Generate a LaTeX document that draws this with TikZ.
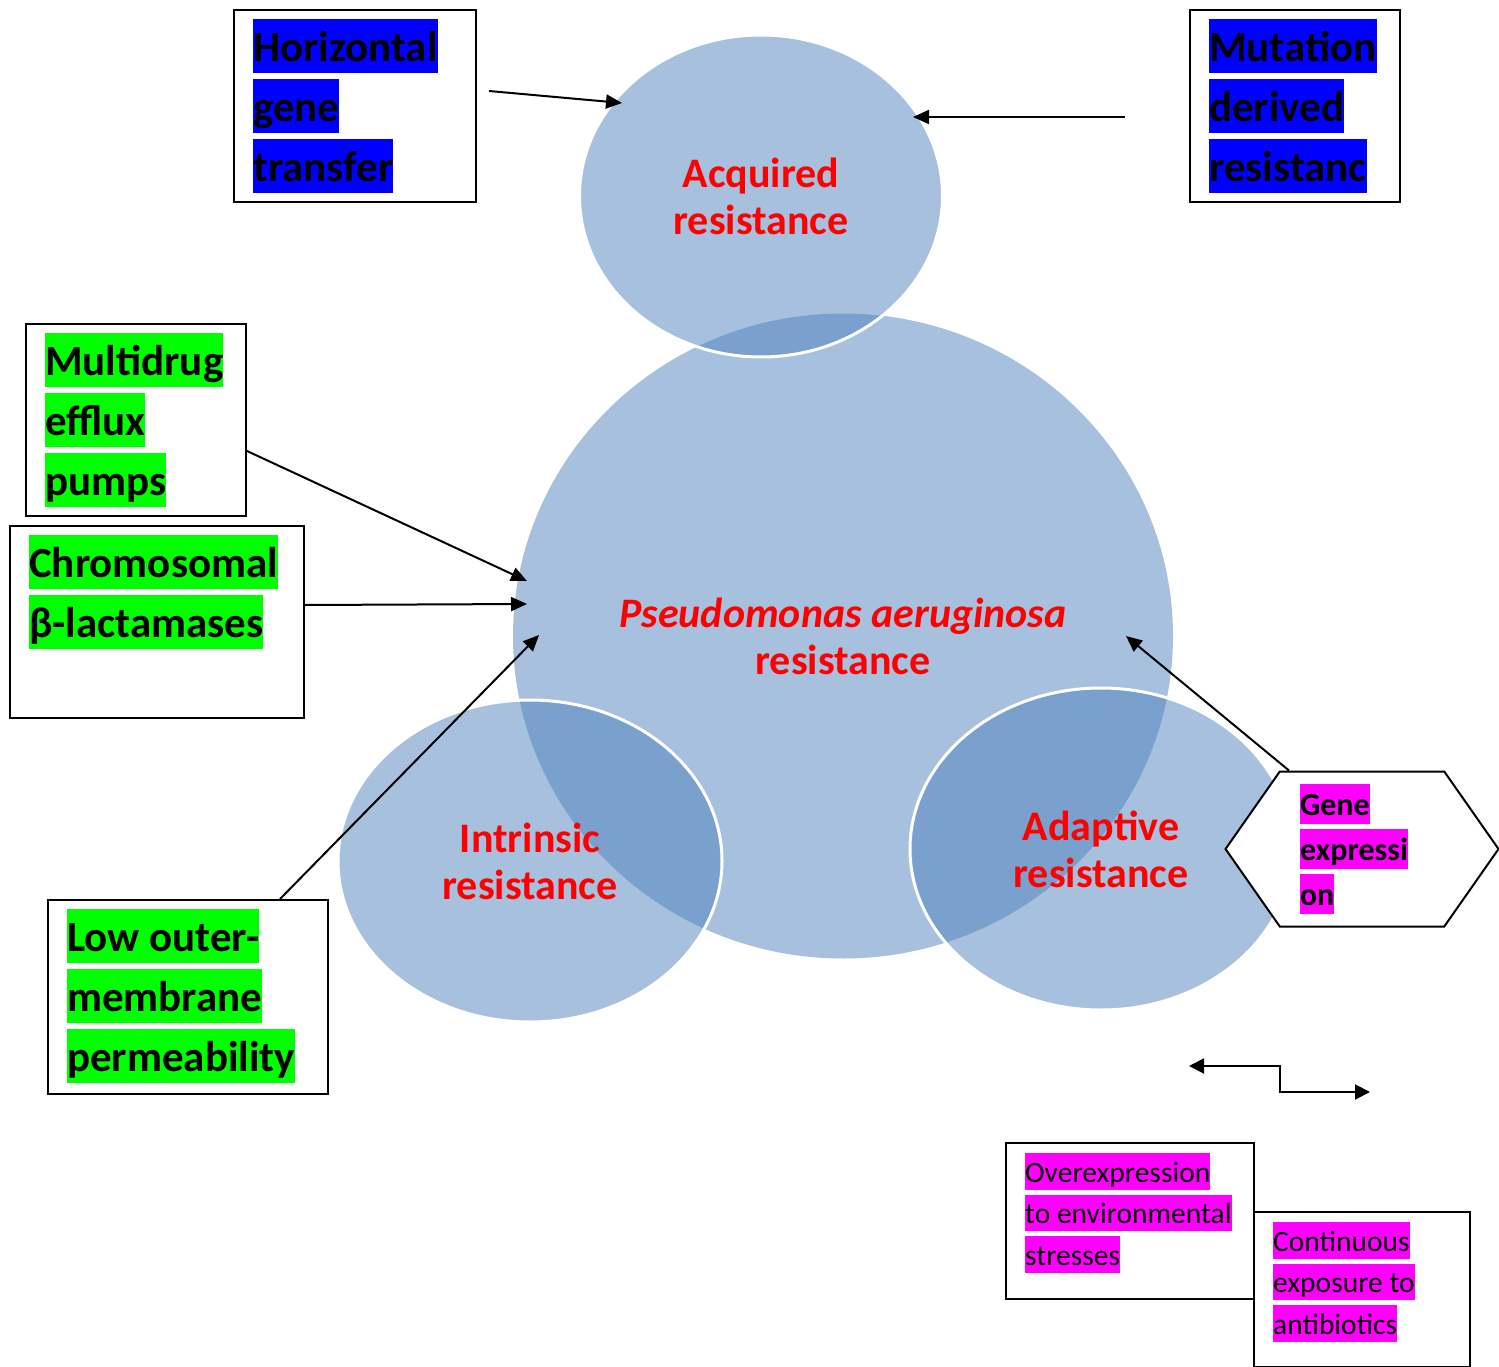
\documentclass[tikz,border=0pt]{standalone}
\usepackage{fontspec}
\setmainfont{Carlito}
\usetikzlibrary{shapes.geometric,shapes.symbols,arrows.meta,positioning}
\definecolor{petal}{RGB}{79,129,189}
\definecolor{hlblue}{RGB}{0,0,255}
\definecolor{hlgreen}{RGB}{0,255,0}
\definecolor{hlpink}{RGB}{255,0,255}
\definecolor{labred}{RGB}{255,0,0}
\setlength{\fboxsep}{0pt}
% highlighted line of text
\newcommand{\hl}[2]{\colorbox{#1}{\rule[-0.26em]{0pt}{1.24em}#2}}

\begin{document}
\begin{tikzpicture}[x=1pt, y=-1pt,
  blob/.style={ellipse, fill=petal, fill opacity=0.5, text opacity=1,
               draw=white, draw opacity=1, line width=3pt, inner sep=0pt,
               align=center, text=labred,
               font=\fontsize{42}{47}\selectfont\bfseries},
  frame/.style={draw, line width=2pt, anchor=north west, inner sep=0pt},
  tag/.style={anchor=north west, inner sep=0pt, align=left,
              font=\fontsize{43}{60}\selectfont\bfseries},
  smalltag/.style={anchor=north west, inner sep=0pt, align=left,
                   font=\fontsize{29.5}{41.5}\selectfont},
  arr/.style={line width=2pt, -{Triangle[length=16pt, width=14pt]}},
  ]
\useasboundingbox (0,0) rectangle (1499,1367);

% ======================================================================
% Circles
% ======================================================================
\node[blob, draw=none, minimum width=660pt, minimum height=645pt]
  (core) at (843,636) {\textit{Pseudomonas aeruginosa}\\resistance};
\node[blob, minimum width=363pt, minimum height=322pt]
  (acquired) at (761,196) {Acquired\\resistance};
\node[blob, minimum width=384pt, minimum height=322pt]
  (intrinsic) at (530,861) {Intrinsic\\resistance};
\node[blob, minimum width=382pt, minimum height=322pt]
  (adaptive) at (1101,849) {Adaptive\\resistance};

% ======================================================================
% Text boxes
% ======================================================================
\node[frame, minimum width=242pt, minimum height=192pt] (hgt) at (233,9) {};
\node[tag] (hgtx) at ([xshift=20pt, yshift=-10pt]hgt.north west)
  {\hl{hlblue}{Horizontal}\\\hl{hlblue}{gene}\\\hl{hlblue}{transfer}};

\node[frame, minimum width=210pt, minimum height=192pt] (mdr) at (1189,9) {};
\node[tag] (mdrx) at ([xshift=20pt, yshift=-10pt]mdr.north west)
  {\hl{hlblue}{Mutation}\\\hl{hlblue}{derived}\\\hl{hlblue}{resistanc}};

\node[frame, minimum width=220pt, minimum height=192pt] (mep) at (25,323) {};
\node[tag] (mepx) at ([xshift=20pt, yshift=-10pt]mep.north west)
  {\hl{hlgreen}{Multidrug}\\\hl{hlgreen}{efflux}\\\hl{hlgreen}{pumps}};

\node[frame, minimum width=294pt, minimum height=192pt] (chr) at (9,525) {};
\node[tag] (chrx) at ([xshift=20pt, yshift=-10pt]chr.north west)
  {\hl{hlgreen}{Chromosomal}\\\hl{hlgreen}{β-lactamases}};

\node[frame, minimum width=280pt, minimum height=194pt] (lom) at (47,899) {};
\node[tag] (lomx) at ([xshift=20pt, yshift=-10pt]lom.north west)
  {\hl{hlgreen}{Low outer-}\\\hl{hlgreen}{membrane}\\\hl{hlgreen}{permeability}};

% --- gene expression hexagon ---
\node[draw, fill=white, line width=2pt, signal, signal to=west and east,
      signal pointer angle=110, minimum width=273pt, minimum height=155pt,
      inner sep=0pt, text width=124pt, align=left,
      font=\fontsize{32}{45}\selectfont\bfseries]
  (gex) at (1362,849)
  {\hl{hlpink}{Gene}\\\hl{hlpink}{expressi}\\\hl{hlpink}{on}};

% --- bottom pair ---
\node[frame, minimum width=248pt, minimum height=156pt] (ovx) at (1005,1142) {};
\node[smalltag] (ovxx) at ([xshift=20pt, yshift=-11pt]ovx.north west)
  {\hl{hlpink}{Overexpression}\\\hl{hlpink}{to environmental}\\\hl{hlpink}{stresses}};

\node[frame, minimum width=216pt, minimum height=155pt] (cex) at (1253,1211) {};
\node[smalltag] (cexx) at ([xshift=20pt, yshift=-11pt]cex.north west)
  {\hl{hlpink}{Continuous}\\\hl{hlpink}{exposure to}\\\hl{hlpink}{antibiotics}};

% ======================================================================
% Arrows
% ======================================================================
\coordinate (hgtout) at (489,91);
\coordinate (acqL) at (622,103);
\coordinate (mdrout) at (1125,117);
\coordinate (acqR) at (913,117);
\coordinate (coreA) at (527,581);
\coordinate (coreB) at (527,604);
\coordinate (coreC) at (539,635);
\coordinate (coreD) at (1126,636);
\coordinate (elbowL) at (1189,1066);
\coordinate (elbowR) at (1370,1092);

\draw[arr] (hgtout) -- (acqL);
\draw[arr] (mdrout) -- (acqR);
\draw[arr] ([yshift=-31pt]mep.east) -- (coreA);
\draw[arr] ([yshift=17pt]chr.east) -- (coreB);
\draw[arr] ([xshift=92pt]lom.north) -- (coreC);
\draw[arr] ([xshift=-73pt]gex.north) -- (coreD);
\draw[line width=2pt, {Triangle[length=15pt, width=15pt]}-{Triangle[length=15pt, width=15pt]}]
  (elbowL) -- ++(91,0) |- (elbowR);

\end{tikzpicture}
\end{document}
